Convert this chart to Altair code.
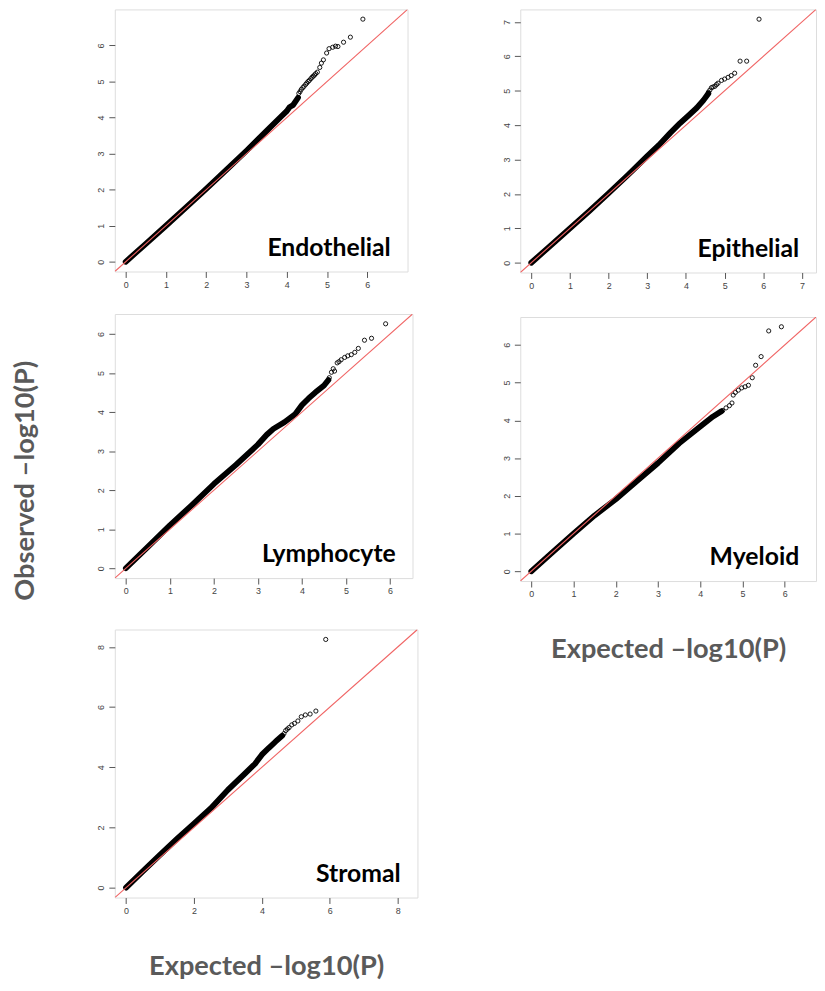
import altair as alt
import pandas as pd

# ---- data (expected, observed -log10 P) ----
endo_band_x = [0.0, 0.5, 1.0, 1.5, 2.0, 2.5, 3.0, 3.5, 3.88, 4.0, 4.07, 4.16, 4.28]
endo_band_y = [0.0, 0.5, 1.0, 1.51, 2.02, 2.55, 3.08, 3.63, 4.05, 4.18, 4.29, 4.35, 4.55]
endo_tail_x = [4.30, 4.33, 4.36, 4.40, 4.43, 4.47, 4.50, 4.53, 4.56, 4.60, 4.63, 4.66, 4.69,
               4.72, 4.76, 4.82, 4.86, 4.91, 4.99, 5.05, 5.14, 5.21, 5.27, 5.41, 5.58, 5.89]
endo_tail_y = [4.67, 4.72, 4.78, 4.83, 4.87, 4.92, 4.96, 5.00, 5.03, 5.08, 5.12, 5.15, 5.18,
               5.22, 5.26, 5.39, 5.51, 5.60, 5.79, 5.91, 5.95, 5.98, 5.97, 6.09, 6.23, 6.73]

epi_band_x = [0.0, 0.5, 1.0, 1.5, 2.0, 2.5, 3.0, 3.3, 3.6, 3.85, 4.05, 4.28, 4.45, 4.58]
epi_band_y = [0.0, 0.5, 1.0, 1.5, 2.02, 2.55, 3.10, 3.42, 3.78, 4.06, 4.26, 4.50, 4.72, 4.92]
epi_tail_x = [4.58, 4.62, 4.66, 4.70, 4.75, 4.79, 4.83, 4.92, 5.00, 5.09, 5.17, 5.26, 5.40, 5.57, 5.89]
epi_tail_y = [4.96, 5.02, 5.09, 5.11, 5.13, 5.18, 5.22, 5.30, 5.34, 5.39, 5.44, 5.51, 5.86, 5.86, 7.08]

lym_band_x = [0.0, 0.5, 1.0, 1.5, 2.0, 2.5, 3.0, 3.2, 3.35, 3.6, 3.85, 4.0, 4.15, 4.3, 4.5, 4.6]
lym_band_y = [0.0, 0.55, 1.10, 1.62, 2.16, 2.65, 3.17, 3.42, 3.57, 3.74, 3.95, 4.18, 4.35, 4.50, 4.68, 4.82]
lym_tail_x = [4.62, 4.67, 4.71, 4.74, 4.80, 4.84, 4.89, 4.97, 5.04, 5.12, 5.20, 5.28, 5.42, 5.58, 5.90]
lym_tail_y = [4.88, 5.02, 5.11, 5.05, 5.26, 5.29, 5.34, 5.40, 5.44, 5.47, 5.53, 5.63, 5.84, 5.89, 6.26]

mye_band_x = [0.0, 0.5, 1.0, 1.5, 2.0, 2.5, 3.0, 3.5, 4.0, 4.3, 4.5]
mye_band_y = [0.0, 0.5, 1.0, 1.48, 1.91, 2.39, 2.87, 3.39, 3.84, 4.10, 4.24]
mye_tail_x = [4.53, 4.61, 4.69, 4.75, 4.78, 4.83, 4.90, 4.98, 5.06, 5.14, 5.23, 5.31, 5.44, 5.62, 5.92]
mye_tail_y = [4.26, 4.33, 4.39, 4.46, 4.67, 4.74, 4.80, 4.86, 4.89, 4.93, 5.13, 5.46, 5.69, 6.37, 6.48]

str_band_x = [0.0, 0.5, 1.0, 1.5, 2.0, 2.5, 3.0, 3.5, 3.8, 4.0, 4.2, 4.4, 4.6]
str_band_y = [0.0, 0.55, 1.09, 1.62, 2.13, 2.64, 3.25, 3.79, 4.12, 4.42, 4.64, 4.85, 5.05]
str_tail_x = [4.65, 4.70, 4.75, 4.80, 4.88, 4.96, 5.06, 5.16, 5.28, 5.42, 5.59, 5.88]
str_tail_y = [5.12, 5.22, 5.27, 5.32, 5.41, 5.46, 5.54, 5.68, 5.74, 5.77, 5.87, 8.25]

panel_names = ["Endothelial", "Epithelial", "Lymphocyte", "Myeloid", "Stromal"]
ticks_6 = [0, 1, 2, 3, 4, 5, 6]
ticks_7 = [0, 1, 2, 3, 4, 5, 6, 7]
ticks_8 = [0, 2, 4, 6, 8]

X_TITLE = "Expected \u2013log10(P)"
Y_TITLE = "Observed \u2013log10(P)"

GREY = "#5a5a5a"
AX = "#555555"
TITLE_STYLE = dict(titleFont="Lato", titleFontSize=27.5, titleFontWeight="bold", titleColor=GREY)


def panel(name, bx, by, tx, ty, ticks, w, h, xtitle=None, tpad=26, ytitle=None):
    m = max(max(ty), max(tx))
    lo, hi = -0.04 * m, 1.04 * m
    sc = alt.Scale(domain=[lo, hi], nice=False, zero=False)
    common = dict(values=list(ticks), domain=False, grid=False, tickSize=6, tickColor=AX,
                  labelFontSize=9, labelColor="#444444", labelFont="Liberation Sans",
                  labelPadding=3, labelFlush=False, labelOverlap=False, labelBound=False,
                  tickCount=len(ticks))
    if xtitle:
        xax = alt.Axis(title=xtitle, titlePadding=tpad, **TITLE_STYLE, **common)
    else:
        xax = alt.Axis(title=None, **common)
    yrot = dict(labelAngle=270, labelAlign="center", labelBaseline="bottom")
    if ytitle:
        yax = alt.Axis(title=ytitle, titleAngle=270, titleAlign="center", titleBaseline="middle",
                       titleX=-90, titleY=168, **TITLE_STYLE, **yrot, **common)
    else:
        yax = alt.Axis(title=None, **yrot, **common)

    X = alt.X("e:Q", scale=sc, axis=xax)
    Y = alt.Y("o:Q", scale=sc, axis=yax)

    band_df = pd.DataFrame({"e": bx, "o": by})
    tail_df = pd.DataFrame({"e": tx, "o": ty})
    diag_df = pd.DataFrame({"e": [lo, hi], "o": [lo, hi]})
    lab_df = pd.DataFrame({"name": [name]})

    band = alt.Chart(band_df).mark_line(
        color="black", strokeWidth=5.8, strokeCap="round", strokeJoin="round", clip=True
    ).encode(x=X, y=Y, order="e:Q")
    pts = alt.Chart(tail_df).mark_point(
        shape="circle", filled=False, size=18, color="black", strokeWidth=0.9, opacity=1, clip=True
    ).encode(x=X, y=Y)
    diag = alt.Chart(diag_df).mark_line(color="#f06464", strokeWidth=1.1, clip=True).encode(x=X, y=Y)
    lab = alt.Chart(lab_df).mark_text(
        align="right", baseline="alphabetic", font="Lato", fontWeight="bold", fontSize=25, color="black"
    ).encode(x=alt.value(w - 17), y=alt.value(h - 16), text="name:N")
    return alt.layer(band, pts, diag, lab).properties(width=w, height=h)


p1 = panel(panel_names[0], endo_band_x, endo_band_y, endo_tail_x, endo_tail_y, ticks_6, 296, 265)
p2 = panel(panel_names[1], epi_band_x, epi_band_y, epi_tail_x, epi_tail_y, ticks_7, 299, 266)
p3 = panel(panel_names[2], lym_band_x, lym_band_y, lym_tail_x, lym_tail_y, ticks_6, 301, 267,
           ytitle=Y_TITLE)
p4 = panel(panel_names[3], mye_band_x, mye_band_y, mye_tail_x, mye_tail_y, ticks_6, 299, 267, X_TITLE, 37)
p5 = panel(panel_names[4], str_band_x, str_band_y, str_tail_x, str_tail_y, ticks_8, 306, 271, X_TITLE, 38)

left = alt.vconcat(alt.vconcat(p1, p3, spacing=23), p5, spacing=28)
right = alt.vconcat(p2, p4, spacing=25)

chart = alt.hconcat(left, right, spacing=84).properties(
    padding={"left": 3, "top": -5, "right": 0, "bottom": 0}
).configure_view(
    stroke="#444444", strokeWidth=1
).configure(background="white")

chart.save("out.html", embed_options={"renderer": "svg", "actions": False})
